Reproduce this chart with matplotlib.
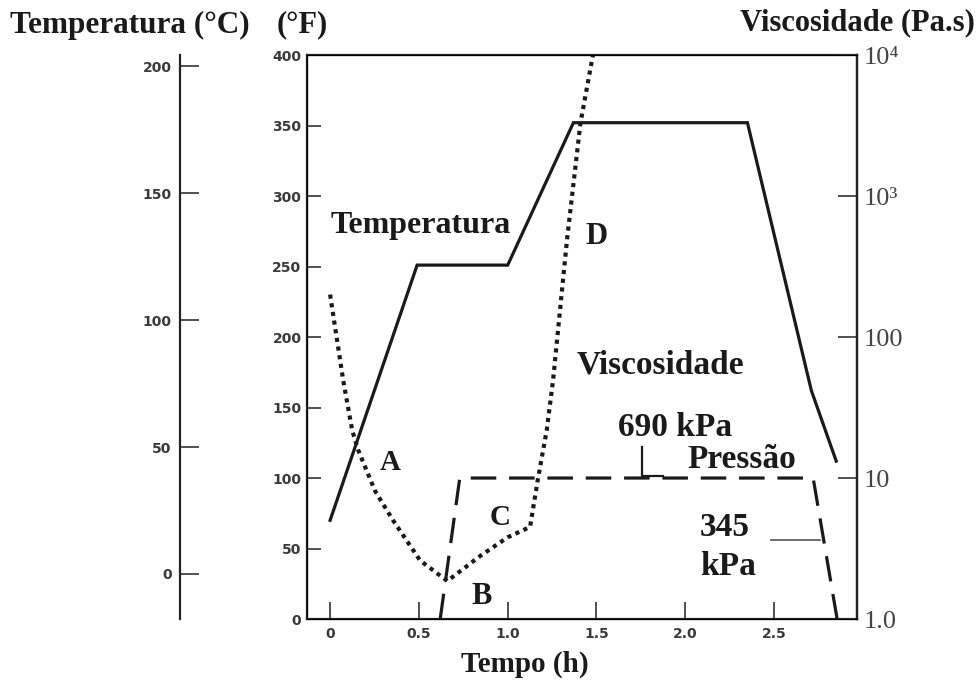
import matplotlib
matplotlib.use("Agg")
import matplotlib.pyplot as plt

# tempo (h) e temperatura (°F)
tempo_temp = [0.0, 0.49, 1.0, 1.37, 2.35, 2.71, 2.85]
temp_F = [70, 251, 251, 352, 352, 162, 112]

# viscosidade (Pa.s)
tempo_visc = [0.0, 0.073, 0.124, 0.158, 0.253, 0.355, 0.507, 0.66, 0.845, 1.0,
              1.126, 1.17, 1.22, 1.256, 1.334, 1.41, 1.48]
visc = [200, 50, 21.9, 15.8, 8.1, 5.0, 2.6, 1.86, 2.8, 3.8,
        4.5, 9.8, 21.9, 50, 490, 3310, 10000]

# pressão (kPa)
tempo_pres = [0.62, 0.73, 2.72, 2.855]
pres_kPa = [0, 690, 690, 0]

ticks_F = [0, 50, 100, 150, 200, 250, 300, 350, 400]
ticks_C = [0, 50, 100, 150, 200]
ticks_t = [0, 0.5, 1.0, 1.5, 2.0, 2.5]
ticks_t_lbl = ["0", "0.5", "1.0", "1.5", "2.0", "2.5"]
ticks_v = [1, 10, 100, 1000, 10000]
ticks_v_lbl = ["1.0", "10", "100", "10³", "10⁴"]

serif = ["Liberation Serif", "DejaVu Serif"]
bold = dict(family=serif, fontweight="bold", color="#1a1a1a")
ink = "#1a1a1a"
tick_font = dict(labelsize=10, labelcolor="#3a3a3a")

fig = plt.figure(figsize=(9.79, 6.81), dpi=100)
ax = fig.add_axes([0.3136, 0.0910, 0.5618, 0.8282])

ax.plot(tempo_temp, temp_F, color=ink, lw=2.3, solid_joinstyle="miter")
ax.set_xlim(-0.13, 2.967)
ax.set_ylim(0, 400)
ax.set_yticks(ticks_F)
ax.set_xticks(ticks_t)
ax.set_xticklabels(ticks_t_lbl)
ax.tick_params(axis="y", direction="in", length=10, width=1.2, color="#333", pad=4, **tick_font)
ax.tick_params(axis="x", direction="in", length=12, width=1.2, color="#333", pad=6, **tick_font)
for lbl in ax.get_xticklabels() + ax.get_yticklabels():
    lbl.set_fontweight("bold")
for sp in ax.spines.values():
    sp.set_linewidth(1.6)
    sp.set_color("#222")

# eixo em °C
ax_c = ax.twinx()
ax_c.set_ylim((0 - 32) * 5 / 9, (400 - 32) * 5 / 9)
ax_c.yaxis.set_ticks_position("left")
ax_c.spines["left"].set_position(("axes", -0.231))
ax_c.spines["left"].set_visible(True)
ax_c.spines["left"].set_linewidth(1.6)
ax_c.spines["left"].set_color("#222")
for s in ["right", "top", "bottom"]:
    ax_c.spines[s].set_visible(False)
ax_c.set_yticks(ticks_C)
ax_c.tick_params(axis="y", direction="in", length=14, width=1.2, color="#333", pad=6, **tick_font)
for lbl in ax_c.get_yticklabels():
    lbl.set_fontweight("bold")

# viscosidade (log)
ax_v = ax.twinx()
ax_v.set_yscale("log")
ax_v.plot(tempo_visc, visc, color=ink, lw=3.0, linestyle=(0, (1.0, 1.1)))
ax_v.set_ylim(1, 1e4)
ax_v.set_yticks(ticks_v)
ax_v.set_yticklabels(ticks_v_lbl, family=serif, fontsize=19, color="#444")
ax_v.minorticks_off()
ax_v.tick_params(axis="y", direction="in", length=14, width=1.2, color="#333", pad=5)
ax_v.spines["right"].set_linewidth(1.6)
ax_v.spines["right"].set_color("#222")

# pressão
ax_p = ax.twinx()
ax_p.plot(tempo_pres, pres_kPa, color=ink, lw=2.3, linestyle=(0, (8, 4)))
ax_p.set_ylim(0, 2760)
ax_p.axis("off")

# textos no gráfico
ax.text(0.51, 279, "Temperatura", fontsize=23, ha="center", va="center", **bold)
ax.text(1.50, 271, "D", fontsize=22, ha="center", va="center", **bold)
ax.text(1.86, 180, "Viscosidade", fontsize=24, ha="center", va="center", **bold)
ax.text(1.94, 136, "690 kPa", fontsize=24, ha="center", va="center", **bold)
ax.text(2.32, 113, "Pressão", fontsize=24, ha="center", va="center", **bold)
ax.text(2.22, 65, "345", fontsize=24, ha="center", va="center", **bold)
ax.text(2.24, 37, "kPa", fontsize=24, ha="center", va="center", **bold)
ax.text(0.34, 111, "A", fontsize=21, ha="center", va="center", **bold)
ax.text(0.856, 16, "B", fontsize=22, ha="center", va="center", **bold)
ax.text(0.96, 72, "C", fontsize=21, ha="center", va="center", **bold)

# linhas de chamada
ax.plot([1.757, 1.757, 1.875], [122, 101.4, 101.4], color=ink, lw=1.6)
ax.plot([2.48, 2.76], [56, 56], color="#555", lw=1.2)

# títulos dos eixos
fig.text(0.010, 0.963, "Temperatura (°C)", fontsize=22.5, ha="left", va="center", **bold)
fig.text(0.309, 0.963, "(°F)", fontsize=22, ha="center", va="center", **bold)
fig.text(0.996, 0.966, "Viscosidade (Pa.s)", fontsize=22, ha="right", va="center", **bold)
fig.text(0.536, 0.024, "Tempo (h)", fontsize=21, ha="center", va="center", **bold)

fig.savefig("out.png", dpi=100)
